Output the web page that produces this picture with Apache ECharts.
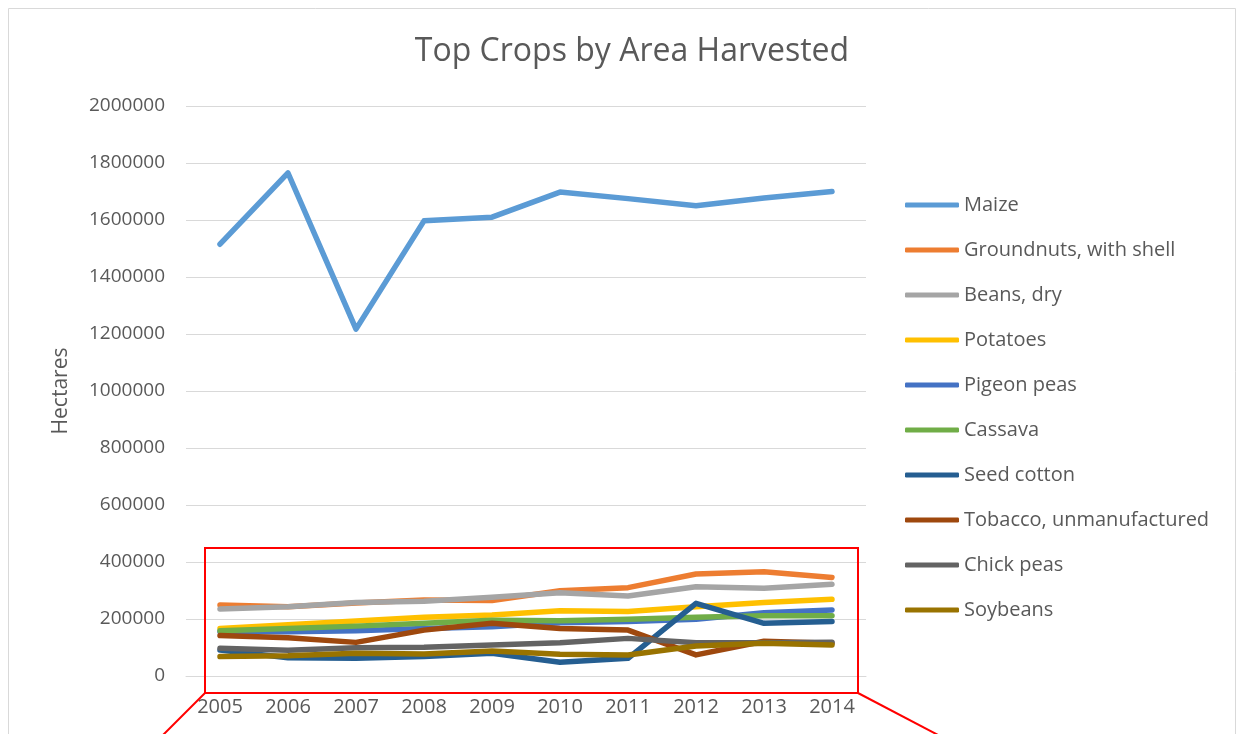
<!DOCTYPE html>
<html lang="en">
<head>
    <meta charset="UTF-8">
    <title>Top Crops by Area Harvested</title>
    <script src="https://cdn.jsdelivr.net/npm/echarts@6/dist/echarts.min.js"></script>
    <style>
        html, body { margin: 0; padding: 0; background: #fff; }
        #chart { width: 1244px; height: 734px; }
    </style>
</head>
<body>
<div id="chart"></div>
<script>
    // data (hectares)
    var years = ['2005', '2006', '2007', '2008', '2009', '2010', '2011', '2012', '2013', '2014'];
    var yTicks = [0, 200000, 400000, 600000, 800000, 1000000, 1200000, 1400000, 1600000, 1800000, 2000000];

    var maize       = [1515000, 1765000, 1217000, 1597000, 1610000, 1698000, 1675000, 1650000, 1677000, 1700000];
    var groundnuts  = [249000, 243000, 256000, 267000, 265000, 299000, 310000, 358000, 366000, 346000];
    var beans       = [235000, 243000, 258000, 262000, 276000, 292000, 281000, 313000, 308000, 322000];
    var potatoes    = [167000, 180000, 193000, 206000, 214000, 229000, 226000, 243000, 258000, 269000];
    var pigeonPeas  = [155000, 155000, 159000, 167000, 173000, 187000, 191000, 199000, 222000, 232000];
    var cassava     = [159000, 167000, 175000, 185000, 196000, 194000, 199000, 206000, 211000, 211000];
    var seedCotton  = [91000, 64000, 62000, 68000, 80000, 48000, 62000, 255000, 185000, 191000];
    var tobacco     = [142000, 134000, 118000, 161000, 185000, 167000, 161000, 74000, 122000, 115000];
    var chickPeas   = [97000, 90000, 99000, 101000, 109000, 117000, 132000, 117000, 117000, 118000];
    var soybeans    = [68000, 71000, 80000, 77000, 88000, 76000, 74000, 105000, 115000, 109000];

    var names = ['Maize', 'Groundnuts, with shell', 'Beans, dry', 'Potatoes', 'Pigeon peas',
                 'Cassava', 'Seed cotton', 'Tobacco, unmanufactured', 'Chick peas', 'Soybeans'];
    var values = [maize, groundnuts, beans, potatoes, pigeonPeas, cassava, seedCotton, tobacco, chickPeas, soybeans];
    var colors = ['#5B9BD5', '#ED7D31', '#A5A5A5', '#FFC000', '#4472C4',
                  '#70AD47', '#255E91', '#9E480E', '#636363', '#997300'];

    var font = 'Open Sans, sans-serif';
    var txt = '#595959';

    var series = names.map(function (n, i) {
        return {
            name: n,
            type: 'line',
            data: values[i],
            symbol: 'none',
            color: colors[i],
            lineStyle: { width: 5.5, cap: 'round', join: 'round' },
            emphasis: { disabled: true }
        };
    });

    var chart = echarts.init(document.getElementById('chart'));
    chart.setOption({
        animation: false,
        color: colors,
        title: {
            text: 'Top Crops by Area Harvested',
            left: 627, top: 31, textAlign: 'center',
            textStyle: { fontFamily: font, fontSize: 32, fontWeight: 'normal', color: txt }
        },
        grid: { left: 186, right: 378, top: 106, bottom: 58 },
        legend: {
            orient: 'vertical',
            left: 905, top: 195,
            padding: 0,
            itemWidth: 54, itemHeight: 5,
            itemGap: 25,
            icon: 'roundRect',
            textStyle: { fontFamily: font, fontSize: 20, color: txt, lineHeight: 20 },
            data: names
        },
        xAxis: {
            type: 'category',
            data: years,
            boundaryGap: true,
            axisLine: { lineStyle: { color: '#d9d9d9', width: 1 } },
            axisTick: { show: false },
            axisLabel: { fontFamily: font, fontSize: 20, color: txt, margin: 21 }
        },
        yAxis: {
            type: 'value',
            min: 0, max: 2000000, interval: 200000,
            name: 'Hectares',
            nameLocation: 'middle',
            nameGap: 114,
            nameTextStyle: { fontFamily: font, fontSize: 21, color: txt },
            axisLine: { show: false },
            axisTick: { show: false },
            splitLine: { lineStyle: { color: '#d9d9d9', width: 1 } },
            axisLabel: { fontFamily: font, fontSize: 19, color: txt, margin: 21,
                formatter: function (v) { return yTicks.indexOf(v) >= 0 ? String(v) : ''; } }
        },
        graphic: [
            { type: 'rect', shape: { x: 8.5, y: 8.5, width: 1227, height: 740 },
              style: { fill: 'none', stroke: '#d9d9d9', lineWidth: 1 }, silent: true },
            { type: 'rect', z: 100, shape: { x: 205, y: 548, width: 653, height: 145 },
              style: { fill: 'none', stroke: '#ff0000', lineWidth: 2 }, silent: true },
            { type: 'line', z: 100, shape: { x1: 205, y1: 693, x2: 162, y2: 736 },
              style: { stroke: '#ff0000', lineWidth: 2 }, silent: true },
            { type: 'line', z: 100, shape: { x1: 858, y1: 693, x2: 940, y2: 736 },
              style: { stroke: '#ff0000', lineWidth: 2 }, silent: true }
        ],
        series: series
    });
</script>
</body>
</html>
